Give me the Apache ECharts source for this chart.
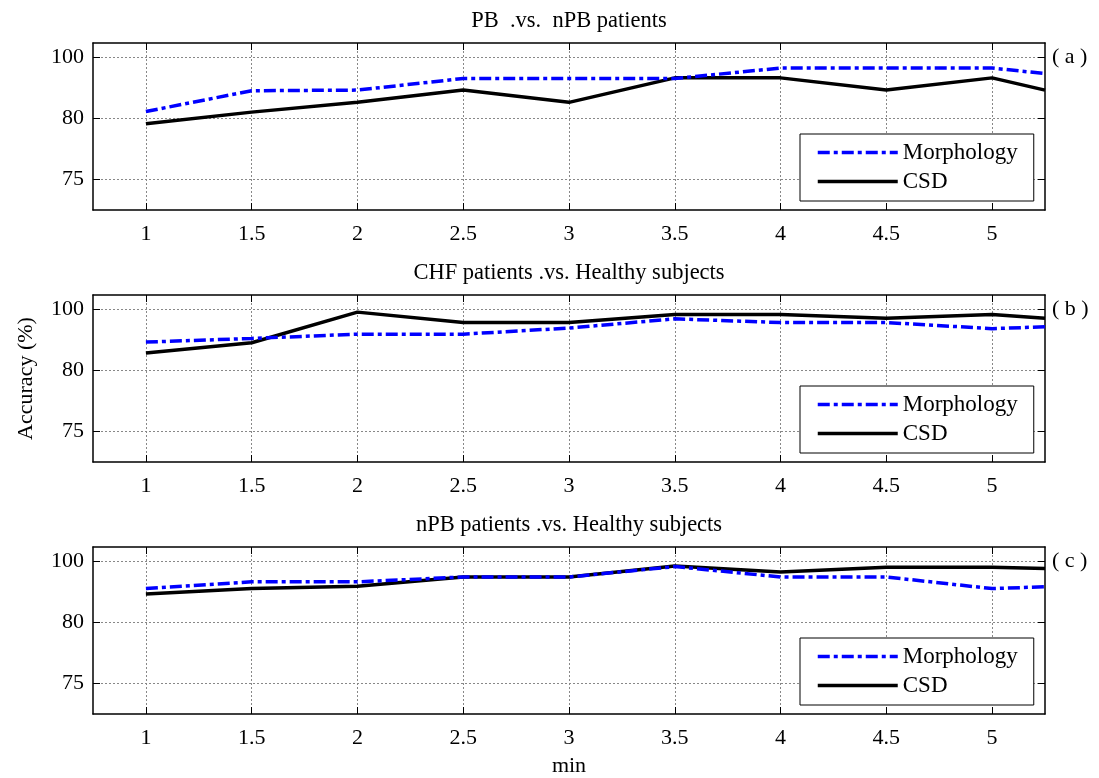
<!DOCTYPE html>
<html>
<head>
<meta charset="UTF-8">
<title>Accuracy vs min</title>
<script src="https://cdn.jsdelivr.net/npm/echarts@6.0.0/dist/echarts.min.js"></script>
<style type="text/css">
    html,body{margin:0;padding:0;background:#fff;}
    #chart{width:1099px;height:778px;}
</style>
</head>
<body>
<div id="chart"></div>
<script>
// x positions (min)
var xValues = [1, 1.5, 2, 2.5, 3, 3.5, 4, 4.5, 5, 5.25];
var xTicks  = [1, 1.5, 2, 2.5, 3, 3.5, 4, 4.5, 5];

// y axis: three evenly spaced ticks, labelled 75 / 80 / 100 in the figure
var yTicks      = [80, 90, 100];
var yTickLabels = ['75', '80', '100'];

var panelTitles = ['PB  .vs.  nPB patients', 'CHF patients .vs. Healthy subjects', 'nPB patients .vs. Healthy subjects'];
var panelTags   = ['( a )', '( b )', '( c )'];
var seriesNames = ['Morphology', 'CSD'];

// values (in axis units)
var morphA = [91.1, 94.5, 94.6, 96.5, 96.5, 96.5, 98.2, 98.2, 98.2, 97.3];
var csdA   = [89.1, 91.0, 92.6, 94.6, 92.6, 96.6, 96.6, 94.6, 96.6, 94.6];
var morphB = [94.6, 95.2, 95.9, 95.9, 96.9, 98.4, 97.8, 97.8, 96.8, 97.1];
var csdB   = [92.8, 94.5, 99.5, 97.8, 97.8, 99.1, 99.1, 98.5, 99.1, 98.5];
var morphC = [95.5, 96.6, 96.6, 97.4, 97.4, 99.1, 97.4, 97.4, 95.5, 95.8];
var csdC   = [94.6, 95.5, 95.9, 97.4, 97.4, 99.2, 98.2, 99.0, 99.0, 98.8];

var morphData = [morphA, morphB, morphC];
var csdData   = [csdA, csdB, csdC];

var font = 'Liberation Serif';
var panelTops = [43, 295, 547];
var panelH = 167;

function pairs(vals){
    var out = [];
    for (var i = 0; i < xValues.length; i++) out.push([xValues[i], vals[i]]);
    return out;
}

var option = {
    animation: false,
    backgroundColor: '#fff',
    textStyle: { fontFamily: font, color: '#000' },
    title: [], grid: [], xAxis: [], yAxis: [], legend: [], series: []
};

for (var p = 0; p < 3; p++) {
    option.grid.push({ left: 93, right: 54, top: panelTops[p], height: panelH });

    option.title.push({
        text: panelTitles[p], left: 569, textAlign: 'center', top: panelTops[p] - 33, padding: 0,
        textStyle: { fontFamily: font, fontSize: 22.5, fontWeight: 'normal', color: '#000' }
    });
    option.title.push({
        text: panelTags[p], left: 1052, top: panelTops[p] + 3, padding: 0,
        textStyle: { fontFamily: font, fontSize: 22, fontWeight: 'normal', color: '#000' }
    });

    // bottom x axis with labels and grid
    option.xAxis.push({
        type: 'value', gridIndex: p, position: 'bottom', min: 0.75, max: 5.25,
        axisLine: { show: true, onZero: false, lineStyle: { color: '#000', width: 1.5 } },
        axisTick: { show: true, inside: true, length: 7, customValues: xTicks, lineStyle: { color: '#000' } },
        axisLabel: { show: true, customValues: xTicks, margin: 13, fontFamily: font, fontSize: 22, color: '#000' },
        splitLine: { show: true, lineStyle: { color: '#888', width: 1, type: [2, 2] } },
        name: p === 2 ? 'min' : '', nameLocation: 'middle', nameGap: 41,
        nameTextStyle: { fontFamily: font, fontSize: 22, color: '#000' }
    });
    // top x axis, ticks only
    option.xAxis.push({
        type: 'value', gridIndex: p, position: 'top', min: 0.75, max: 5.25,
        axisLine: { show: true, onZero: false, lineStyle: { color: '#000', width: 1.5 } },
        axisTick: { show: true, inside: true, length: 7, customValues: xTicks, lineStyle: { color: '#000' } },
        axisLabel: { show: false },
        splitLine: { show: false }
    });
    // left y axis
    option.yAxis.push({
        type: 'value', gridIndex: p, position: 'left', min: 75, max: 102.3,
        axisLine: { show: true, onZero: false, lineStyle: { color: '#000', width: 1.5 } },
        axisTick: { show: true, inside: true, length: 7, customValues: yTicks, lineStyle: { color: '#000' } },
        axisLabel: {
            show: true, customValues: yTicks, margin: 9, fontFamily: font, fontSize: 22, color: '#000',
            formatter: function (v) { return yTickLabels[yTicks.indexOf(v)]; }
        },
        splitLine: { show: true, lineStyle: { color: '#888', width: 1, type: [2, 2] } },
        name: p === 1 ? 'Accuracy (%)' : '', nameLocation: 'middle', nameGap: 56, nameRotate: 90,
        nameTextStyle: { fontFamily: font, fontSize: 22, color: '#000' }
    });
    // right y axis, ticks only
    option.yAxis.push({
        type: 'value', gridIndex: p, position: 'right', min: 75, max: 102.3,
        axisLine: { show: true, onZero: false, lineStyle: { color: '#000', width: 1.5 } },
        axisTick: { show: true, inside: true, length: 7, customValues: yTicks, lineStyle: { color: '#000' } },
        axisLabel: { show: false },
        splitLine: { show: false }
    });

    option.legend.push({
        data: seriesNames, orient: 'vertical', left: 800, top: panelTops[p] + 91,
        padding: [7, 16, 8, 16], itemGap: 6, itemWidth: 80, itemHeight: 14,
        backgroundColor: '#fff', borderColor: '#000', borderWidth: 1,
        itemStyle: { opacity: 0 },
        lineStyle: { width: 3.5 },
        textStyle: { fontFamily: font, fontSize: 23, color: '#000' }
    });

    option.series.push({
        name: seriesNames[0], type: 'line', xAxisIndex: p * 2, yAxisIndex: p * 2,
        symbol: 'none', data: pairs(morphData[p]),
        lineStyle: { color: '#0000ff', width: 3.5, type: [12, 4, 4, 4] },
        itemStyle: { color: '#0000ff' }, z: 3
    });
    option.series.push({
        name: seriesNames[1], type: 'line', xAxisIndex: p * 2, yAxisIndex: p * 2,
        symbol: 'none', data: pairs(csdData[p]),
        lineStyle: { color: '#000', width: 3.5 },
        itemStyle: { color: '#000' }, z: 2
    });
}

var myChart = echarts.init(document.getElementById('chart'));
myChart.setOption(option);
</script>
</body>
</html>
